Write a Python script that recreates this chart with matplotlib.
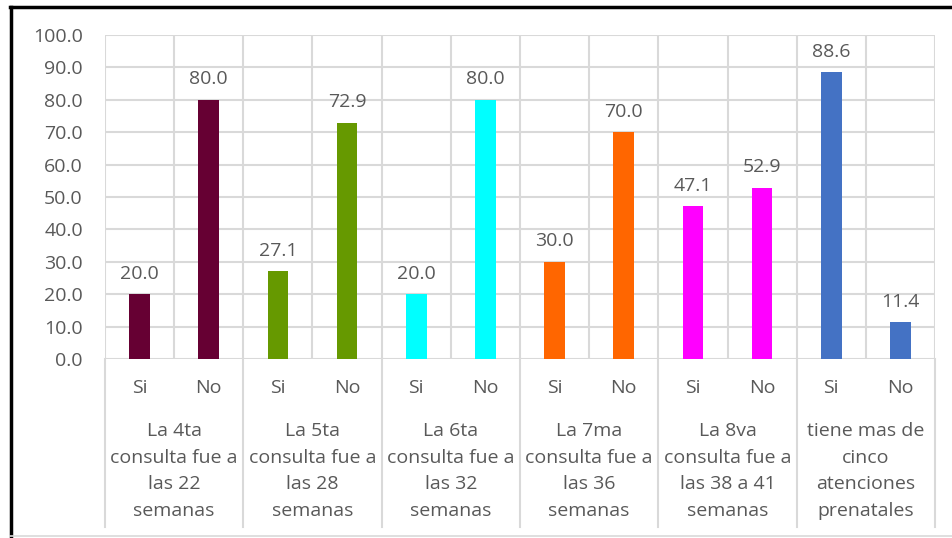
import matplotlib
matplotlib.use("Agg")
import matplotlib.pyplot as plt
from matplotlib.lines import Line2D
import numpy as np

plt.rcParams['font.family'] = ['Open Sans', 'DejaVu Sans']

groups = [
    "La 4ta\nconsulta fue a\nlas 22\nsemanas",
    "La 5ta\nconsulta fue a\nlas 28\nsemanas",
    "La 6ta\nconsulta fue a\nlas 32\nsemanas",
    "La 7ma\nconsulta fue a\nlas 36\nsemanas",
    "La 8va\nconsulta fue a\nlas 38 a 41\nsemanas",
    "tiene mas de\ncinco\natenciones\nprenatales",
]
answers = ["Si", "No"]
si_values = [20.0, 27.1, 20.0, 30.0, 47.1, 88.6]
no_values = [80.0, 72.9, 80.0, 70.0, 52.9, 11.4]
colors = ["#660033", "#669900", "#00FFFF", "#FF6600", "#FF00FF", "#4472C4"]
yticks = np.arange(0, 101, 10)

text_color = "#595959"
grid_color = "#D9D9D9"
fs = 14

fig = plt.figure(figsize=(9.53, 5.38), dpi=100)
ax = fig.add_axes([105 / 953, 1 - 359 / 538, 830 / 953, 324 / 538])

n = len(groups) * 2
values = []
bar_colors = []
for s, nv, c in zip(si_values, no_values, colors):
    values += [s, nv]
    bar_colors += [c, c]
x = np.arange(n)
ax.bar(x, values, width=0.3, color=bar_colors, zorder=3)
for xi, v in zip(x, values):
    ax.text(xi, v + 3.5, f"{v:.1f}", ha="center", va="bottom",
            fontsize=fs, color=text_color)

ax.set_xlim(-0.5, n - 0.5)
ax.set_ylim(0, 100)
ax.set_yticks(yticks)
ax.set_yticklabels([f"{t:.1f}" for t in yticks], fontsize=fs, color=text_color)
ax.tick_params(axis="y", length=0, pad=16)
ax.tick_params(axis="x", length=0)
ax.set_xticks([])
for t in yticks:
    ax.axhline(t, color=grid_color, lw=1.5, zorder=1)
for b in np.arange(-0.5, n, 1.0):
    ax.axvline(b, color=grid_color, lw=1.5, zorder=1)
for sp in ax.spines.values():
    sp.set_visible(False)

# category labels below the axis
trans = ax.get_xaxis_transform()
for i in range(n):
    ax.text(i, -29 / 324, answers[i % 2], transform=trans, ha="center",
            va="center", fontsize=fs, color=text_color)
for g, label in enumerate(groups):
    ax.text(2 * g + 0.5, -63 / 324, label, transform=trans, ha="center",
            va="top", fontsize=fs, color=text_color, linespacing=1.62)
for b in np.arange(-0.5, n, 2.0):
    ax.add_line(Line2D([b, b], [0, -168 / 324], transform=trans,
                       color=grid_color, lw=1.5, clip_on=False))

# outer frame
W, H = 953, 538
fig.add_artist(Line2D([10 / W, 1], [1 - 6.5 / H, 1 - 6.5 / H], color="black",
                      lw=2.5, transform=fig.transFigure))
fig.add_artist(Line2D([10.5 / W, 10.5 / W], [0, 1 - 6.5 / H], color="black",
                      lw=2.5, transform=fig.transFigure))
fig.add_artist(Line2D([10 / W, 1], [1 - 535.5 / H, 1 - 535.5 / H],
                      color="#D9D9D9", lw=1.2, transform=fig.transFigure))

fig.savefig("out.png", dpi=100)
